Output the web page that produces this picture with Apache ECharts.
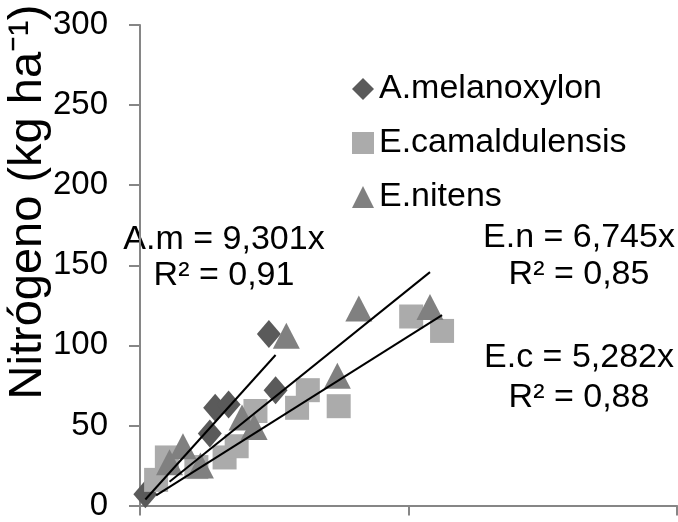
<!DOCTYPE html>
<html>
<head>
<meta charset="utf-8">
<script src="https://cdn.jsdelivr.net/npm/echarts@6/dist/echarts.min.js"></script>
<style>html,body{margin:0;padding:0;background:#fff}#c{width:678px;height:522px}</style>
</head>
<body>
<div id="c"></div>
<script>
// ---- data ----
const amX = [0.4, 5.2, 5.6, 6.6, 9.6, 10.1];
const amY = [7, 45, 61, 63, 107, 72];
const ecX = [1.2, 2.0, 4.2, 6.3, 7.2, 8.6, 11.7, 12.5, 14.8, 20.2, 22.5];
const ecY = [16, 30, 24, 30, 37, 59, 61, 72, 62, 118, 109];
const enX = [2.2, 3.2, 4.5, 7.6, 8.5, 10.9, 14.7, 16.3, 21.6];
const enY = [27, 37, 25, 55, 49, 106, 81, 123, 124];
const seriesNames = ['A.melanoxylon', 'E.camaldulensis', 'E.nitens'];
const slopes = [9.301, 5.282, 6.745];
const eqLabels = ['A.m = 9,301x\nR² = 0,91', 'E.c = 5,282x\nR² = 0,88', 'E.n = 6,745x\nR² = 0,85'];
const yTicks = [0, 50, 100, 150, 200, 250, 300];
const xTicks = [0, 20, 40];
const yTitle = 'Nitrógeno (kg ha⁻¹)';

const xs = [amX, ecX, enX];
const ys = [amY, ecY, enY];
const symbols = ['diamond', 'rect', 'triangle'];
const symSizes = [[24, 28], [24, 24], [27, 26]];
const colors = ['#5a5a5a', '#ababab', '#808080'];

const pts = (x, y) => x.map((v, i) => [v, y[i]]);
const trend = (x, k) => {
  const lo = Math.min(...x), hi = Math.max(...x);
  return [[lo, k * lo], [hi, k * hi]];
};

const scatter = seriesNames.map((n, i) => ({
  name: n, type: 'scatter', data: pts(xs[i], ys[i]),
  symbol: symbols[i], symbolSize: symSizes[i],
  itemStyle: { color: colors[i], opacity: 1 }, clip: false, z: 2 + i
}));
const lines = slopes.map((k, i) => ({
  type: 'line', data: trend(xs[i], k), symbol: 'none', silent: true,
  lineStyle: { color: '#000', width: 2 }, z: 10
}));

const chart = echarts.init(document.getElementById('c'), null, { renderer: 'canvas' });
const ff = 'Liberation Sans, Arial, sans-serif';
chart.setOption({
  animation: false,
  backgroundColor: '#fff',
  textStyle: { fontFamily: ff },
  grid: { left: 140, right: 1, top: 25, bottom: 14, containLabel: false },
  xAxis: {
    type: 'value', min: xTicks[0], max: xTicks[xTicks.length - 1], interval: xTicks[1] - xTicks[0],
    axisLine: { lineStyle: { color: '#868686', width: 2 } },
    axisTick: { show: true, length: 10, lineStyle: { color: '#868686', width: 2 } },
    axisLabel: { show: false }, splitLine: { show: false }
  },
  yAxis: {
    type: 'value', min: yTicks[0], max: yTicks[yTicks.length - 1], interval: yTicks[1] - yTicks[0],
    axisLine: { show: true, lineStyle: { color: '#868686', width: 2 } },
    axisTick: { show: true, length: 11, lineStyle: { color: '#868686', width: 2 } },
    axisLabel: { color: '#000', fontSize: 33, fontFamily: ff, margin: 32 },
    splitLine: { show: false }
  },
  legend: {
    orient: 'vertical', left: 347, top: 67, itemGap: 20,
    itemWidth: 22, itemHeight: 22,
    data: seriesNames.map((n, i) => ({ name: n, icon: symbols[i] })),
    textStyle: { color: '#000', fontSize: 34, fontFamily: ff }
  },
  graphic: [
    { type: 'text', x: 28, y: 202, rotation: Math.PI / 2,
      style: { text: yTitle, fill: '#000', font: '47px ' + ff, textAlign: 'center', textVerticalAlign: 'middle' } },
    { type: 'text', x: 224, y: 258, style: { text: eqLabels[0], fill: '#000', font: '34px ' + ff, textAlign: 'center', textVerticalAlign: 'middle', lineHeight: 36 } },
    { type: 'text', x: 579, y: 256, style: { text: eqLabels[2], fill: '#000', font: '34px ' + ff, textAlign: 'center', textVerticalAlign: 'middle', lineHeight: 37 } },
    { type: 'text', x: 579, y: 378, style: { text: eqLabels[1], fill: '#000', font: '34px ' + ff, textAlign: 'center', textVerticalAlign: 'middle', lineHeight: 40 } }
  ],
  series: [...scatter, ...lines]
});
</script>
</body>
</html>
